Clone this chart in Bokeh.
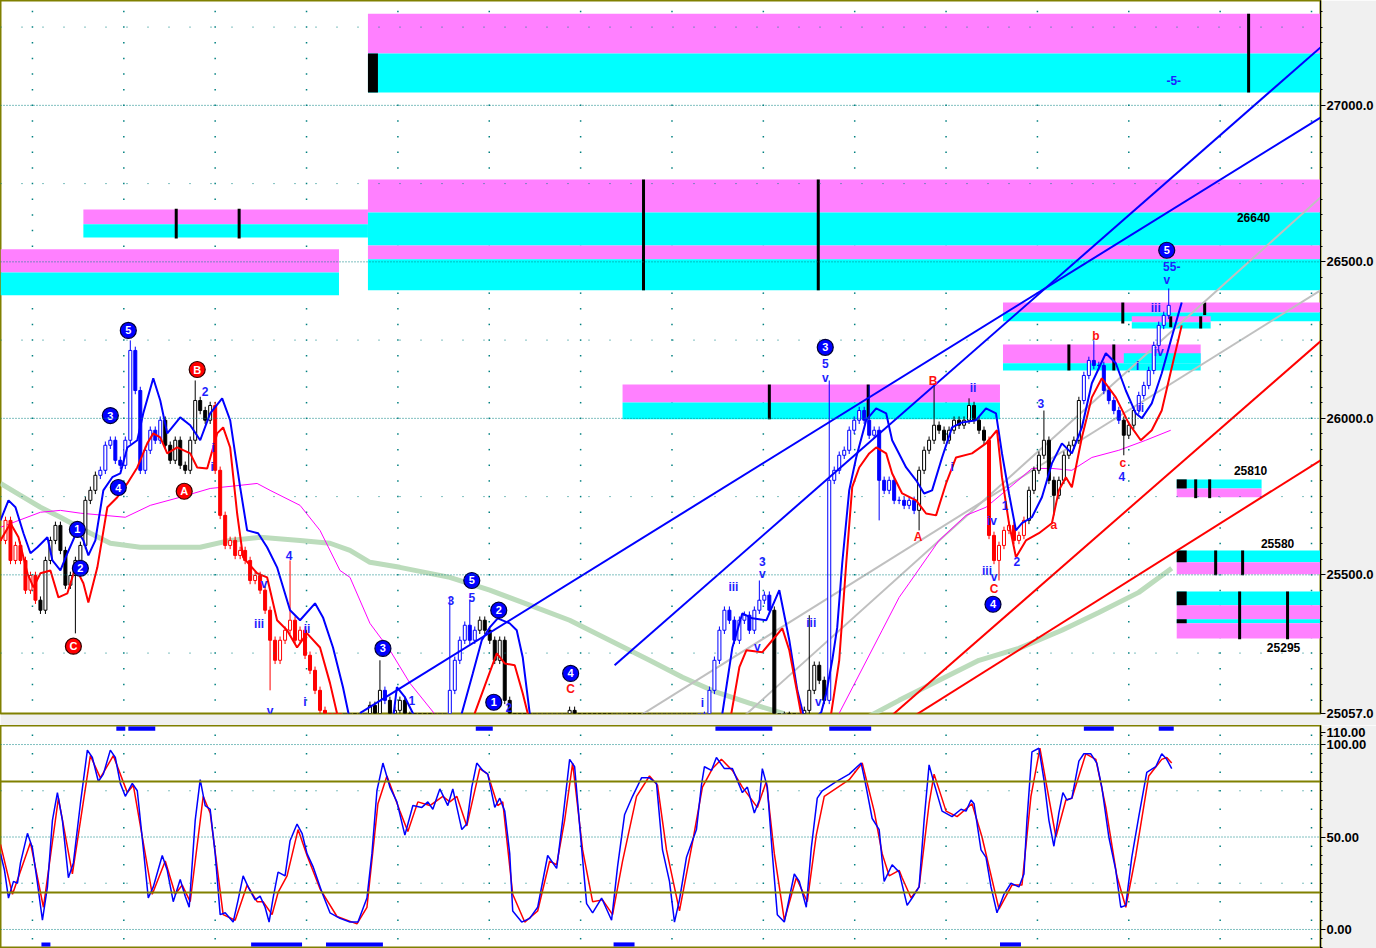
import numpy as np
from bokeh.plotting import figure
from bokeh.layouts import column
from bokeh.models import Range1d, FixedTicker, NumeralTickFormatter, Span
from bokeh.embed import file_html
from bokeh.resources import INLINE
from bokeh.core.properties import value

# ---------------- DATA ----------------
# candle closes, one every 5 time units starting at t=0
closes = [
    25610, 25674, 25546, 25594, 25546, 25451, 25498, 25419, 25387, 25546,
    25610, 25658, 25578, 25467, 25498, 25546, 25594, 25738, 25770, 25818,
    25834, 25914, 25930, 25866, 25850, 25930, 26217, 26089, 25834, 25898,
    25962, 25930, 25994, 25914, 25866, 25930, 25850, 25834, 25930, 26057,
    26025, 25994, 26041, 25834, 25690, 25594, 25610, 25562, 25578, 25546,
    25482, 25498, 25451, 25387, 25291, 25227, 25291, 25323, 25355, 25291,
    25323, 25243, 25195, 25131, 25067, 25003, 24960, 24940, 24920, 24930,
    24950, 24940, 24960, 24990, 25083, 25051, 25131, 25099, 25035, 25067,
    25099, 25051, 25035, 24990, 24960, 24940, 24930, 24950, 24980, 25010,
    25131, 25227, 25291, 25339, 25291, 25323, 25355, 25323, 25291, 25227,
    25291, 25099, 25019, 24980, 24950, 24930, 24920, 24940, 24960, 24990,
    25000, 25010, 25020, 25040, 25067, 25020, 24990, 24960, 24930, 24900,
    24880, 24870, 24860, 24870, 24890, 24900, 24880, 24860, 24850, 24860,
    24880, 24900, 24920, 24940, 24950, 24960, 24980, 25000, 25010, 25020,
    25040, 25051, 25131, 25227, 25323, 25387, 25355, 25291, 25355, 25371,
    25323, 25387, 25419, 25435, 25387, 25035, 25019, 25051, 25035, 25019,
    25035, 25067, 25131, 25211, 25163, 25099, 25802, 25834, 25882, 25898,
    25962, 25994, 26025, 25994, 25946, 25962, 25802, 25770, 25802, 25738,
    25738, 25722, 25738, 25706, 25834, 25898, 25930, 25978, 25962, 25930,
    25962, 25994, 25978, 25994, 26041, 25994, 25962, 25930, 25626, 25546,
    25594, 25642, 25658, 25610, 25626, 25674, 25770, 25834, 25882, 25930,
    25802, 25754, 25802, 25882, 25914, 25930, 26057, 26137, 26185, 26169,
    26169, 26089, 26057, 26025, 25994, 25946, 25978, 26025, 26073, 26105,
    26153, 26233, 26297, 26329, 26361,
]
bar_step = 5
hi_spikes = {130: 26249, 195: 26121, 290: 25546, 380: 25227, 450: 25428, 470: 25419,
             760: 25482, 810: 25371, 830: 26121, 870: 26105, 935: 26112, 970: 26064,
             1045: 26025, 1095: 26249, 1170: 26415}
lo_spikes = {75: 25313, 270: 25131, 880: 25674, 920: 25642, 1000: 25482, 1055: 25690,
             1125: 25882, 830: 25696}
seg_start = [0, 38, 100, 165, 213, 345, 382, 388, 448, 478, 700, 775, 826, 918, 988, 1030, 1085, 1125, 1138]
seg_color = ["#ff0000", "#000000", "#0000ff", "#000000", "#ff0000", "#000000", "#0000ff", "#000000",
             "#0000ff", "#000000", "#0000ff", "#000000", "#0000ff", "#000000", "#ff0000", "#000000",
             "#0000ff", "#000000", "#0000ff"]

band_hi_t = [0, 8, 15, 23, 30, 37, 47, 52, 60, 67, 77, 83, 88, 95, 103, 112, 120, 127, 137, 143, 153, 160,
             167, 180, 190, 200, 210, 222, 230, 240, 247, 258, 267, 277, 290, 300, 315, 323, 333, 343, 350,
             360, 385, 393, 397, 405, 413, 420, 455, 462, 473, 482, 490, 498, 510, 517, 523, 530, 537, 713,
             723, 733, 743, 753, 767, 780, 790, 798, 805, 815, 822, 827, 833, 838, 843, 850, 857, 867, 877,
             887, 893, 907, 917, 925, 933, 943, 953, 963, 977, 987, 997, 1003, 1010, 1017, 1023, 1033, 1043,
             1053, 1063, 1073, 1083, 1093, 1107, 1117, 1127, 1137, 1143, 1153, 1163, 1173, 1183]
band_hi = [25674, 25738, 25716, 25633, 25569, 25588, 25620, 25546, 25514, 25569, 25642, 25610, 25562, 25610,
           25770, 25812, 25824, 25907, 25930, 26016, 26128, 26057, 25952, 26003, 25978, 25930, 26016, 26064,
           25994, 25780, 25642, 25633, 25588, 25524, 25387, 25355, 25409, 25364, 25268, 25141, 25035, 24900,
           24900, 25035, 25141, 25109, 25058, 24950, 24950, 25058, 25185, 25291, 25332, 25361, 25345, 25323,
           25237, 25058, 24900, 24900, 25058, 25268, 25377, 25361, 25355, 25451, 25291, 25131, 25042, 25042,
           25061, 25122, 25227, 25332, 25537, 25770, 25875, 25994, 26032, 26016, 25930, 25843, 25802, 25760,
           25770, 25875, 25971, 25987, 25994, 26032, 26016, 25888, 25760, 25642, 25665, 25684, 25748, 25856,
           25920, 25888, 25971, 26112, 26208, 26176, 26089, 26016, 26000, 26048, 26144, 26259, 26370]
band_lo_t = [0, 10, 18, 27, 33, 40, 50, 58, 67, 75, 83, 88, 97, 107, 117, 127, 137, 147, 153, 160, 167, 177,
             190, 197, 207, 217, 223, 230, 237, 243, 257, 267, 277, 287, 297, 307, 320, 330, 337, 345, 468,
             475, 487, 497, 505, 515, 523, 528, 535, 725, 732, 740, 747, 763, 773, 783, 790, 798, 803, 810,
             825, 832, 840, 847, 853, 860, 870, 877, 887, 893, 903, 917, 927, 937, 947, 957, 973, 987, 998,
             1003, 1010, 1017, 1027, 1040, 1053, 1060, 1067, 1073, 1083, 1093, 1103, 1117, 1130, 1142, 1153,
             1163, 1170, 1183]
band_lo = [25610, 25665, 25620, 25505, 25460, 25505, 25514, 25428, 25441, 25524, 25473, 25412, 25524, 25716,
           25748, 25792, 25843, 25920, 25952, 25939, 25888, 25907, 25888, 25843, 25840, 25952, 25971, 25907,
           25696, 25556, 25505, 25492, 25355, 25323, 25268, 25313, 25268, 25154, 25058, 24900, 24900, 25058,
           25163, 25249, 25217, 25211, 25122, 25058, 24900, 24900, 25058, 25205, 25259, 25253, 25291, 25329,
           25259, 25122, 25035, 24900, 24900, 25058, 25227, 25537, 25780, 25843, 25888, 25907, 25888, 25824,
           25760, 25738, 25696, 25690, 25792, 25875, 25888, 25920, 25962, 25812, 25665, 25556, 25610, 25633,
           25665, 25770, 25812, 25780, 25939, 26067, 26128, 26067, 25984, 25930, 25962, 26025, 26121, 26297]
ma_fast_t = [0, 40, 60, 80, 125, 150, 180, 210, 240, 257, 270, 300, 320, 340, 350, 370, 390, 410, 440, 460,
             820, 840, 883, 900, 910, 940, 967, 987, 1017, 1033, 1053, 1073, 1093, 1120, 1147, 1172]
ma_fast = [25652, 25700, 25706, 25697, 25684, 25722, 25748, 25776, 25786, 25792, 25770, 25722, 25642, 25514,
           25492, 25345, 25259, 25154, 25035, 24900, 24900, 25058, 25323, 25428, 25473, 25610, 25690, 25716,
           25796, 25840, 25840, 25834, 25875, 25898, 25930, 25962]
ma_slow_t = [0, 20, 40, 60, 90, 110, 140, 200, 230, 260, 300, 330, 350, 370, 400, 450, 490, 530, 570, 610,
             650, 683, 717, 750, 783, 820, 850, 870, 900, 940, 980, 1020, 1063, 1100, 1140, 1173]
ma_slow = [25792, 25754, 25716, 25684, 25633, 25601, 25588, 25588, 25610, 25620, 25610, 25601, 25578, 25540,
           25524, 25492, 25451, 25403, 25355, 25291, 25227, 25173, 25125, 25090, 25058, 24950, 24980, 25048,
           25099, 25163, 25227, 25265, 25323, 25380, 25444, 25521]

# trend lines: (t0, p0, t1, p1)
trend_blue = [(360, 25058, 1322, 26961), (615, 25211, 1322, 27185)]
trend_gray = [(633, 25035, 1322, 26409), (740, 25035, 1322, 26706)]
trend_red = [(887, 25035, 1322, 26246), (908, 25035, 1322, 25866)]

# target zones: left, right, bottom, top, kind (M = magenta, C = cyan, K = black marker)
zone_left = [368, 368, 83, 83, 0, 0, 368, 368, 368, 368, 623, 623, 1004, 1004, 1133, 1133, 1004, 1004, 1125,
             1178, 1178, 1178, 1178, 1178, 1178, 1178, 1178,
             368, 1178, 1178, 1178, 1178]
zone_right = [1322, 1322, 368, 368, 339, 339, 1322, 1322, 1322, 1322, 1001, 1001, 1322, 1322, 1212, 1212, 1202,
              1202, 1202, 1263, 1263, 1322, 1322, 1322, 1322, 1322, 1322,
              378, 1188, 1188, 1188, 1188]
zone_bottom = [27166, 27041, 26620, 26578, 26466, 26393, 26658, 26552, 26508, 26409, 26051, 25997, 26338, 26310,
               26307, 26287, 26176, 26153, 26176, 25776, 25748, 25540, 25502, 25403, 25358, 25345, 25297,
               27041, 25776, 25540, 25403, 25345]
zone_top = [27293, 27166, 26667, 26620, 26540, 26466, 26763, 26658, 26552, 26508, 26108, 26051, 26370, 26338,
            26326, 26307, 26236, 26176, 26208, 25805, 25776, 25578, 25540, 25447, 25403, 25358, 25345,
            27166, 25805, 25578, 25447, 25358]
zone_kind = ["M", "C", "M", "C", "M", "C", "M", "C", "M", "C", "M", "C", "M", "C", "M", "C", "M", "C", "C",
             "C", "M", "C", "M", "C", "M", "C", "M",
             "K", "K", "K", "K", "K"]
tick_t = [1250, 176, 239, 644, 819, 770, 869, 1124, 1206, 1172, 1202, 1070, 1115, 1197, 1211, 1217, 1244, 1241, 1289]
tick_lo = [27041, 26575, 26575, 26409, 26409, 25997, 25997, 26303, 26330, 26291, 26287, 26153, 26153, 25745, 25745,
           25499, 25499, 25294, 25294]
tick_hi = [27293, 26670, 26670, 26763, 26763, 26108, 26108, 26370, 26370, 26326, 26326, 26236, 26236, 25805, 25805,
           25578, 25578, 25447, 25447]
level_text = ["26640", "25810", "25580", "25295"]
level_t = [1255, 1252, 1279, 1285]
level_p = [26642, 25834, 25601, 25268]

# Elliott wave labels
circ_blue_text = ["5", "3", "4", "1", "2", "3", "5", "2", "1", "4", "3", "4", "5"]
circ_blue_t = [128, 110, 118, 77, 80, 383, 472, 499, 494, 571, 826, 994, 1168]
circ_blue_p = [26281, 26009, 25779, 25645, 25521, 25265, 25482, 25387, 25093, 25185, 26227, 25406, 26537]
circ_red_text = ["B", "A", "C"]
circ_red_t = [197, 184, 73]
circ_red_p = [26156, 25767, 25272]
wave_blue_text = ["2", "i", "i", "4", "v", "iii", "ii", "i", "v", "1", "3", "5", "2", "i", "iii", "3", "v", "v",
                  "iii", "v", "5", "v", "ii", "i", "3", "1", "iv", "iii", "v", "2", "4", "i", "ii", "iv", "iii",
                  "v", "55-", "-5-"]
wave_blue_t = [205, 213, 212, 289, 264, 259, 307, 305, 270, 412, 451, 472, 509, 703, 734, 763, 763, 758, 812, 819,
               826, 826, 974, 953, 1042, 1006, 993, 988, 995, 1018, 1123, 1139, 1142, 1160, 1157, 1168, 1173, 1175]
wave_blue_p = [26086, 25904, 25843, 25562, 25470, 25342, 25326, 25093, 25064, 25099, 25419, 25428, 25077, 25090,
               25460, 25543, 25502, 25268, 25345, 25093, 26176, 26128, 26096, 25843, 26048, 25722, 25671, 25511,
               25492, 25543, 25815, 26166, 26032, 26211, 26354, 26441, 26485, 27079]
wave_red_text = ["B", "A", "C", "a", "b", "c", "C"]
wave_red_t = [934, 919, 995, 1055, 1097, 1124, 571]
wave_red_p = [26118, 25620, 25454, 25658, 26262, 25856, 25134]

# stochastic oscillator
stoch_k_t = [0, 4, 8, 13, 17, 20, 27, 32, 37, 42, 47, 52, 57, 62, 68, 73, 80, 87, 92, 98, 103, 110, 115, 120,
             125, 132, 137, 143, 148, 153, 162, 167, 173, 180, 185, 189, 195, 200, 205, 210, 215, 220, 225, 233,
             238, 243, 248, 255, 260, 265, 269, 273, 278, 285, 290, 297, 302, 307, 313, 322, 330, 340, 350, 358,
             367, 372, 377, 383, 390, 397, 405, 413, 422, 428, 433, 440, 448, 453, 462, 467, 472, 477, 483, 488,
             495, 500, 505, 510, 513, 522, 530, 538, 548, 557, 563, 570, 575, 582, 587, 593, 602, 612, 618, 625,
             633, 642, 650, 657, 663, 670, 675, 680, 687, 697, 702, 705, 712, 717, 725, 733, 743, 748, 755, 760,
             763, 768, 773, 778, 785, 790, 795, 800, 807, 812, 818, 823, 837, 850, 862, 867, 873, 880, 885, 893,
             900, 908, 913, 920, 925, 930, 935, 943, 953, 962, 967, 972, 975, 982, 987, 992, 998, 1005, 1012,
             1020, 1025, 1028, 1033, 1040, 1045, 1050, 1055, 1060, 1064, 1068, 1073, 1080, 1085, 1092, 1098,
             1103, 1110, 1117, 1122, 1127, 1133, 1140, 1148, 1157, 1163, 1168, 1173]
stoch_k = [41, 32, 17, 26, 25, 36, 52, 44, 25, 5, 23, 59, 74, 59, 28, 36, 68, 97, 93, 80, 84, 97, 93, 79, 72,
           79, 75, 44, 17, 23, 40, 32, 15, 27, 18, 12, 59, 81, 67, 65, 41, 8, 9, 4, 16, 29, 23, 16, 18, 12, 4,
           17, 31, 29, 48, 57, 52, 41, 34, 20, 9, 6, 4, 4, 17, 41, 75, 90, 77, 69, 51, 67, 66, 69, 65, 76, 67,
           76, 54, 57, 77, 90, 86, 84, 66, 71, 64, 41, 10, 4, 6, 12, 40, 33, 59, 92, 88, 44, 14, 9, 17, 5, 34,
           62, 72, 82, 82, 79, 43, 26, 4, 16, 39, 54, 78, 88, 86, 93, 87, 87, 74, 77, 63, 70, 87, 77, 41, 8, 4,
           17, 30, 26, 12, 44, 71, 75, 80, 84, 90, 77, 60, 54, 26, 35, 31, 13, 17, 23, 59, 89, 79, 64, 61, 65,
           64, 70, 68, 43, 39, 23, 9, 19, 25, 23, 30, 59, 96, 98, 81, 59, 45, 63, 74, 70, 71, 91, 95, 95, 90,
           77, 50, 32, 12, 13, 39, 61, 85, 88, 95, 92, 87]
stoch_d_t = [0, 12, 30, 43, 58, 72, 90, 100, 113, 127, 133, 152, 165, 175, 182, 190, 203, 210, 223, 235, 247,
             257, 263, 272, 278, 287, 298, 307, 320, 337, 357, 367, 378, 387, 400, 408, 418, 430, 443, 450, 457,
             467, 480, 488, 498, 503, 513, 525, 538, 550, 557, 565, 573, 583, 593, 603, 613, 623, 637, 650, 658,
             667, 680, 693, 703, 713, 722, 733, 743, 758, 767, 775, 785, 797, 808, 817, 825, 850, 863, 875, 883,
             890, 900, 903, 912, 920, 930, 935, 947, 958, 973, 983, 1000, 1013, 1023, 1032, 1041, 1048, 1057,
             1067, 1073, 1087, 1097, 1107, 1118, 1127, 1137, 1150, 1163, 1168, 1173]
stoch_d = [46, 19, 47, 12, 71, 30, 94, 82, 94, 74, 78, 19, 37, 19, 24, 15, 72, 63, 8, 5, 24, 15, 15, 8, 20, 29,
           54, 40, 22, 7, 3, 12, 68, 83, 64, 53, 69, 67, 72, 69, 72, 56, 87, 84, 67, 69, 19, 4, 10, 37, 35, 59,
           90, 43, 15, 16, 8, 37, 72, 83, 78, 43, 10, 47, 77, 87, 92, 86, 77, 66, 80, 41, 5, 28, 15, 51, 72, 81,
           90, 64, 41, 29, 32, 28, 17, 23, 68, 84, 64, 61, 68, 50, 11, 24, 24, 72, 98, 77, 50, 70, 71, 95, 92,
           66, 29, 12, 40, 83, 92, 93, 90]
sig_top_l = [116, 128, 476, 716, 830, 1085, 1160]
sig_top_r = [125, 155, 493, 773, 872, 1115, 1175]
sig_bot_l = [41, 251, 326, 614, 1001]
sig_bot_r = [50, 302, 383, 635, 1022]

price_ticks = [25057, 25500, 26000, 26500, 27000]
stoch_ticks = [0, 50, 100]
stoch_top_label = "110.00"

# ---------------- STYLE / LAYOUT ----------------
TEAL = "#008080"
OLIVE = "#808000"
MAG = "#ff80ff"
CYAN = "#00ffff"
FONT = value("Liberation Sans")
W = 1376
AXW = 54
FRAME_W = W - AXW
x_range = Range1d(0, FRAME_W)

main = figure(width=W, height=725, x_range=x_range, y_range=Range1d(25057, 27335),
              output_backend="svg", toolbar_location=None, x_axis_location=None,
              y_axis_location="right", min_border_left=0, min_border_right=AXW,
              min_border_top=0, min_border_bottom=12)
stoch = figure(width=W, height=223, x_range=x_range, y_range=Range1d(-10.3, 110.3),
               output_backend="svg", toolbar_location=None, x_axis_location=None,
               y_axis_location="right", min_border_left=0, min_border_right=AXW,
               min_border_top=0, min_border_bottom=0)

# label for the panel top value sits just inside the panel so it is not clipped
stoch_top_pos = 106.5
axis_setup = ((main, price_ticks, list(range(25100, 27350, 50)), "0.0", {}),
              (stoch, stoch_ticks + [stoch_top_pos], list(range(-10, 110, 5)), "0.00",
               {stoch_top_pos: stoch_top_label}))
for f, ticks, minor, fmt, overrides in axis_setup:
    f.grid.visible = False
    f.background_fill_color = "white"
    f.border_fill_color = "#f0f0f0"
    f.outline_line_color = OLIVE
    f.outline_line_width = 2
    ax = f.yaxis[0]
    ax.ticker = FixedTicker(ticks=ticks, minor_ticks=minor)
    ax.formatter = NumeralTickFormatter(format=fmt)
    ax.major_label_overrides = overrides
    ax.axis_line_color = "black"
    ax.major_tick_out = 5
    ax.major_tick_in = 0
    ax.minor_tick_out = 2
    ax.minor_tick_in = 0
    ax.minor_tick_line_color = "black"
    ax.major_label_standoff = 1
    ax.major_label_text_font = "Liberation Sans"
    ax.major_label_text_font_style = "bold"
    ax.major_label_text_font_size = "13px"
    ax.major_label_text_color = "black"

# ----- main panel grid -----
grid_cols = [32 + 91.5 * k for k in range(15)]
for lvl in price_ticks[1:]:
    main.add_layout(Span(location=lvl, dimension="width", line_color=TEAL, line_dash="1 2", line_width=1))
for lvl in [25250, 25750, 26250, 26750, 27250]:
    main.add_layout(Span(location=lvl, dimension="width", line_color=TEAL, line_dash="1 20", line_width=1))
gx, gy = np.meshgrid(grid_cols, np.arange(25100, 27350, 50))
main.scatter(gx.ravel(), gy.ravel(), marker="square", size=1.5, color=TEAL, line_color=None)

# ----- zones -----
kind_color = {"M": MAG, "C": CYAN, "K": "black"}
main.quad(left=zone_left, right=zone_right, bottom=zone_bottom, top=zone_top,
          fill_color=[kind_color[k] for k in zone_kind], line_color=None)
main.segment(x0=tick_t, y0=tick_lo, x1=tick_t, y1=tick_hi, line_color="black", line_width=3)

# ----- moving averages -----
main.line(ma_slow_t, ma_slow, line_color="#bcdcbc", line_width=5)
for t0, p0, t1, p1 in trend_gray:
    main.line([t0, t1], [p0, p1], line_color="#c0c0c0", line_width=2)
main.line(ma_fast_t, ma_fast, line_color="#ff00ff", line_width=1)

# ----- candles -----
c = np.array(closes, dtype=float)
o = np.concatenate([[c[0]], c[:-1]])
t = np.arange(len(c)) * bar_step
WICK = 12
hi = np.maximum(o, c) + WICK
lo = np.minimum(o, c) - WICK
for tt, v in hi_spikes.items():
    i = tt // bar_step
    hi[i] = max(hi[i], v)
for tt, v in lo_spikes.items():
    i = tt // bar_step
    lo[i] = min(lo[i], v)
seg_idx = np.searchsorted(seg_start, t, side="right") - 1
col = [seg_color[k] for k in seg_idx]
fill = ["white" if c[i] > o[i] else col[i] for i in range(len(c))]
main.segment(x0=t, y0=lo, x1=t, y1=hi, line_color=col, line_width=1)
main.vbar(x=t, width=3, top=np.maximum(o, c), bottom=np.minimum(o, c), fill_color=fill, line_color=col)

# ----- envelopes -----
main.line(band_hi_t, band_hi, line_color="#0000ff", line_width=2)
main.line(band_lo_t, band_lo, line_color="#ff0000", line_width=2)

# ----- trend lines -----
for t0, p0, t1, p1 in trend_blue:
    main.line([t0, t1], [p0, p1], line_color="#0000ff", line_width=2)
for t0, p0, t1, p1 in trend_red:
    main.line([t0, t1], [p0, p1], line_color="#ff0000", line_width=2)

# ----- labels -----
main.text(level_t, level_p, text=level_text, text_align="center", text_baseline="middle",
          text_font=FONT, text_font_style="bold", text_font_size="12px", text_color="black")
main.text(wave_blue_t, wave_blue_p, text=wave_blue_text, text_align="center", text_baseline="middle",
          text_font=FONT, text_font_style="bold", text_font_size="12px", text_color="#1e1eff")
main.text(wave_red_t, wave_red_p, text=wave_red_text, text_align="center", text_baseline="middle",
          text_font=FONT, text_font_style="bold", text_font_size="12px", text_color="#ff1010")
main.scatter(circ_blue_t, circ_blue_p, marker="circle", size=16, fill_color="#0000ff",
             line_color="#000033", line_width=1.2)
main.text(circ_blue_t, circ_blue_p, text=circ_blue_text, text_align="center", text_baseline="middle",
          text_font=FONT, text_font_style="bold", text_font_size="11px", text_color="white")
main.scatter(circ_red_t, circ_red_p, marker="circle", size=16, fill_color="#ff0000",
             line_color="#330000", line_width=1.2)
main.text(circ_red_t, circ_red_p, text=circ_red_text, text_align="center", text_baseline="middle",
          text_font=FONT, text_font_style="bold", text_font_size="11px", text_color="white")

# ----- stochastic panel -----
for lvl in stoch_ticks:
    stoch.add_layout(Span(location=lvl, dimension="width", line_color=TEAL, line_dash="1 2", line_width=1))
for lvl in [25, 75]:
    stoch.add_layout(Span(location=lvl, dimension="width", line_color=TEAL, line_dash="1 20", line_width=1))
for lvl in [20, 80]:
    stoch.add_layout(Span(location=lvl, dimension="width", line_color=OLIVE, line_width=2))
sx, sy = np.meshgrid(grid_cols, np.arange(-5, 110, 10))
stoch.scatter(sx.ravel(), sy.ravel(), marker="square", size=1.5, color=TEAL, line_color=None)
stoch.quad(left=sig_top_l, right=sig_top_r, bottom=107.5, top=109.7, fill_color="#0000ff", line_color=None)
stoch.quad(left=sig_bot_l, right=sig_bot_r, bottom=-9.2, top=-7.0, fill_color="#0000ff", line_color=None)
stoch.line(stoch_d_t, stoch_d, line_color="#ff0000", line_width=1.5)
stoch.line(stoch_k_t, stoch_k, line_color="#0000ff", line_width=1.5)

layout = column(main, stoch, spacing=0)
open("out.html", "w").write(file_html(layout, INLINE))
